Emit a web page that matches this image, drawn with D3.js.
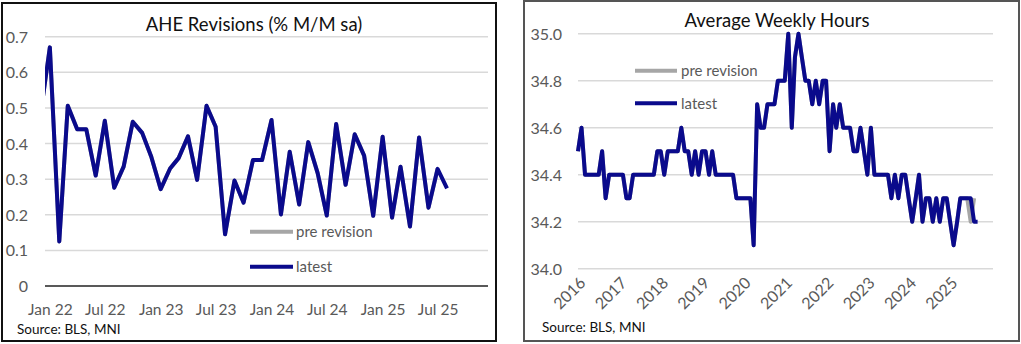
<!DOCTYPE html>
<html><head><meta charset="utf-8">
<script src="https://cdn.jsdelivr.net/npm/d3@7"></script>
<style>
body{margin:0;background:#fff;}
svg text{font-family:Lato,"Open Sans",sans-serif;}
</style></head>
<body><svg id="c" width="1021" height="344"></svg>
<script>
// ---------- data: AHE revisions (% M/M sa), monthly from Dec 2021 ----------
const aheStart = "2021-12";
const aheLatest = [0.48,0.67,0.125,0.506,0.44,0.44,0.31,0.464,0.276,0.335,0.461,0.43,0.363,
  0.272,0.33,0.359,0.42,0.298,0.506,0.447,0.145,0.296,0.234,0.354,0.354,
  0.466,0.201,0.377,0.229,0.404,0.317,0.198,0.455,0.284,0.426,0.366,0.197,
  0.419,0.192,0.335,0.167,0.417,0.22,0.329,0.274];
const ahePre = [0.48,0.67,0.125,0.506,0.44,0.44,0.31,0.464,0.276,0.335,0.461,0.43,0.363,
  0.272,0.33,0.359,0.42,0.298,0.506,0.447,0.145,0.296,0.234,0.354,0.354,
  0.466,0.201,0.377,0.229,0.404,0.317,0.198,0.455,0.284,0.426,0.366,0.197,
  0.419,0.192,0.335,0.167,0.417,0.22,0.329];
const aheYTicks = [0,0.1,0.2,0.3,0.4,0.5,0.6,0.7];
const aheXTicks = ["2022-01","2022-07","2023-01","2023-07","2024-01","2024-07","2025-01","2025-07"];
const aheXLabels = ["Jan 22","Jul 22","Jan 23","Jul 23","Jan 24","Jul 24","Jan 25","Jul 25"];

// ---------- data: Average weekly hours, monthly from Dec 2015 ----------
const awhStart = "2015-12";
const awhLatest = [34.5,34.6,34.4,34.4,34.4,34.4,34.4,34.5,34.3,34.4,34.4,34.4,34.4,
  34.4,34.3,34.3,34.4,34.4,34.4,34.4,34.4,34.4,34.4,34.5,34.5,
  34.4,34.5,34.5,34.5,34.5,34.6,34.5,34.5,34.4,34.5,34.4,34.5,
  34.5,34.4,34.5,34.4,34.4,34.4,34.4,34.4,34.4,34.3,34.3,34.3,
  34.3,34.3,34.1,34.7,34.6,34.6,34.7,34.7,34.7,34.8,34.8,34.8,
  35.0,34.6,34.9,35.0,34.9,34.8,34.8,34.7,34.8,34.7,34.8,34.8,
  34.5,34.7,34.6,34.7,34.6,34.6,34.6,34.5,34.5,34.6,34.5,34.4,
  34.6,34.4,34.4,34.4,34.4,34.4,34.3,34.4,34.3,34.4,34.4,34.3,
  34.2,34.3,34.4,34.2,34.3,34.3,34.2,34.3,34.2,34.3,34.3,34.2,
  34.1,34.2,34.3,34.3,34.3,34.3,34.2,34.2];
const awhPre = [34.5,34.6,34.4,34.4,34.4,34.4,34.4,34.5,34.3,34.4,34.4,34.4,34.4,
  34.4,34.3,34.3,34.4,34.4,34.4,34.4,34.4,34.4,34.4,34.5,34.5,
  34.4,34.5,34.5,34.5,34.5,34.6,34.5,34.5,34.4,34.5,34.4,34.5,
  34.5,34.4,34.5,34.4,34.4,34.4,34.4,34.4,34.4,34.3,34.3,34.3,
  34.3,34.3,34.1,34.7,34.6,34.6,34.7,34.7,34.7,34.8,34.8,34.8,
  35.0,34.6,34.9,35.0,34.9,34.8,34.8,34.7,34.8,34.7,34.8,34.8,
  34.5,34.7,34.6,34.7,34.6,34.6,34.6,34.5,34.5,34.6,34.5,34.4,
  34.6,34.4,34.4,34.4,34.4,34.4,34.3,34.4,34.3,34.4,34.4,34.3,
  34.2,34.3,34.4,34.2,34.3,34.3,34.2,34.3,34.2,34.3,34.3,34.2,
  34.1,34.2,34.3,34.3,34.3,34.2,34.3];
const awhYTicks = [34.0,34.2,34.4,34.6,34.8,35.0];
const awhXTicks = ["2016","2017","2018","2019","2020","2021","2022","2023","2024","2025"];

const seriesNames = ["pre revision","latest"];
const colPre = "#a6a6a6", colLatest = "#0a0a8c";
const gridCol = "#d9d9d9", textCol = "#595959";

const parseM = d3.timeParse("%Y-%m");
const parseY = d3.timeParse("%Y");
function monthly(start, vals){
  const s = parseM(start);
  return vals.map((v,i)=>({date:d3.timeMonth.offset(s,i), value:v}));
}

const svg = d3.select("#c");

// ================= LEFT PANEL =================
{
  const g = svg.append("g");
  g.append("rect").attr("x",2).attr("y",3).attr("width",494).attr("height",338)
    .attr("fill","#fff").attr("stroke","#111").attr("stroke-width",2);
  const x = d3.scaleTime().domain([new Date(2021,11,16), new Date(2025,11,14)]).range([45,488]);
  const y = d3.scaleLinear().domain([0,0.7]).range([286,36.7]);

  g.append("g").selectAll("line").data(aheYTicks.filter(d=>d>0)).join("line")
    .attr("x1",45).attr("x2",488).attr("y1",d=>y(d)).attr("y2",d=>y(d))
    .attr("stroke",gridCol).attr("stroke-width",1.5);
  g.append("line").attr("x1",45).attr("x2",488).attr("y1",y(0)).attr("y2",y(0))
    .attr("stroke","#595959").attr("stroke-width",2);

  const yAx = d3.axisLeft(y).tickValues(aheYTicks).tickSize(0).tickPadding(0)
    .tickFormat(d=>d===0?"0":d3.format(".1f")(d));
  const ya = g.append("g").attr("transform","translate(28,0)").call(yAx);
  ya.select(".domain").remove();
  ya.selectAll("text").attr("fill",textCol).attr("font-size",16).attr("dy","0.35em");

  const xAx = d3.axisBottom(x).tickValues(aheXTicks.map(parseM)).tickSize(0).tickPadding(0)
    .tickFormat((d,i)=>aheXLabels[i]);
  const xa = g.append("g").attr("transform","translate(0,315)").call(xAx);
  xa.select(".domain").remove();
  xa.selectAll("text").attr("fill",textCol).attr("font-size",15.5).attr("dy",0);

  g.append("defs").append("clipPath").attr("id","clipL").append("rect")
    .attr("x",45).attr("y",20).attr("width",445).attr("height",280);
  const line = d3.line().x(d=>x(d.date)).y(d=>y(d.value));
  g.append("path").datum(monthly(aheStart,ahePre)).attr("d",line).attr("fill","none")
    .attr("stroke",colPre).attr("stroke-width",4).attr("stroke-linejoin","round")
    .attr("clip-path","url(#clipL)");
  g.append("path").datum(monthly(aheStart,aheLatest)).attr("d",line).attr("fill","none")
    .attr("stroke",colLatest).attr("stroke-width",4).attr("stroke-linejoin","round")
    .attr("clip-path","url(#clipL)");

  g.append("text").attr("x",254).attr("y",31).attr("text-anchor","middle")
    .attr("font-size",18.5).attr("fill","#111").text("AHE Revisions (% M/M sa)");
  g.append("text").attr("x",17).attr("y",334).attr("font-size",13.5).attr("fill","#111")
    .text("Source: BLS, MNI");

  const lg = g.append("g");
  [colPre,colLatest].forEach((c,i)=>{
    const yy = 231.7 + i*35;
    lg.append("line").attr("x1",250).attr("x2",293).attr("y1",yy).attr("y2",yy)
      .attr("stroke",c).attr("stroke-width",4);
    lg.append("text").attr("x",296).attr("y",yy).attr("dy","0.35em").attr("font-size",15)
      .attr("fill",textCol).text(seriesNames[i]);
  });
}

// ================= RIGHT PANEL =================
{
  const g = svg.append("g");
  g.append("rect").attr("x",524).attr("y",1).attr("width",495).attr("height",340)
    .attr("fill","#fff").attr("stroke","#555").attr("stroke-width",2);
  const x = d3.scaleTime().domain([new Date(2015,11,1), new Date(2025,11,15)]).range([578,993]);
  const y = d3.scaleLinear().domain([34.0,35.0]).range([268.7,33.7]);

  g.append("g").selectAll("line").data(awhYTicks).join("line")
    .attr("x1",578).attr("x2",993).attr("y1",d=>y(d)).attr("y2",d=>y(d))
    .attr("stroke",gridCol).attr("stroke-width",1.5);

  const yAx = d3.axisLeft(y).tickValues(awhYTicks).tickSize(0).tickPadding(0)
    .tickFormat(d3.format(".1f"));
  const ya = g.append("g").attr("transform","translate(562,0)").call(yAx);
  ya.select(".domain").remove();
  ya.selectAll("text").attr("fill",textCol).attr("font-size",16).attr("dy","0.35em");

  const xa = g.append("g");
  xa.selectAll("text").data(awhXTicks).join("text")
    .attr("transform",d=>`translate(${x(parseY(d))+5},${284}) rotate(-45)`)
    .attr("text-anchor","end").attr("font-size",16).attr("fill",textCol).text(d=>d);

  const line = d3.line().x(d=>x(d.date)).y(d=>y(d.value));
  g.append("path").datum(monthly(awhStart,awhPre)).attr("d",line).attr("fill","none")
    .attr("stroke",colPre).attr("stroke-width",4).attr("stroke-linejoin","round");
  g.append("path").datum(monthly(awhStart,awhLatest)).attr("d",line).attr("fill","none")
    .attr("stroke",colLatest).attr("stroke-width",4).attr("stroke-linejoin","round");

  g.append("text").attr("x",777).attr("y",27).attr("text-anchor","middle")
    .attr("font-size",18.5).attr("fill","#111").text("Average Weekly Hours");
  g.append("text").attr("x",542).attr("y",332).attr("font-size",13.5).attr("fill","#111")
    .text("Source: BLS, MNI");

  const lg = g.append("g");
  [colPre,colLatest].forEach((c,i)=>{
    const yy = 70.7 + i*32.6;
    lg.append("line").attr("x1",635).attr("x2",677).attr("y1",yy).attr("y2",yy)
      .attr("stroke",c).attr("stroke-width",4);
    lg.append("text").attr("x",681).attr("y",yy).attr("dy","0.35em").attr("font-size",15)
      .attr("fill",textCol).text(seriesNames[i]);
  });
}
</script></body></html>
